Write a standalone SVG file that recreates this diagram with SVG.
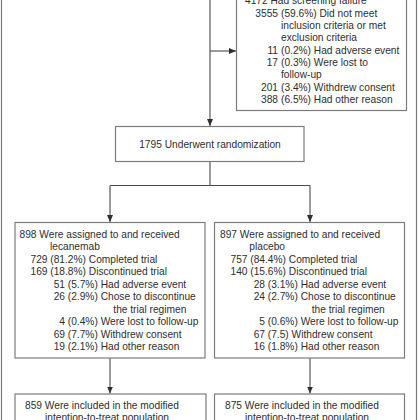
<svg xmlns="http://www.w3.org/2000/svg" width="420" height="420" viewBox="0 0 420 420">
<style>
  .box { fill: #ffffff; stroke: #7c7c7c; stroke-width: 1.2; }
  .frame { fill: none; stroke: #7a7a7a; stroke-width: 1.2; }
  .conn { fill: none; stroke: #4a4a4a; stroke-width: 1.1; }
  text { font-family: "Liberation Sans", Arial, sans-serif; font-size: 10.2px; fill: #2e2e2e; }
  .end { text-anchor: end; }
  .mid { text-anchor: middle; }
</style>
<defs>
  <marker id="arr" markerUnits="userSpaceOnUse" markerWidth="8" markerHeight="6" refX="7" refY="3" orient="auto">
    <path d="M0,0 L7,3 L0,6 Z" fill="#2e2e2e"/>
  </marker>
</defs>
<rect width="420" height="420" fill="#ffffff"/>
<line class="frame" x1="1.5" y1="-5" x2="1.5" y2="425"/>
<line class="frame" x1="416.5" y1="-5" x2="416.5" y2="425"/>

<g id="connectors">
  <path class="conn" d="M210,-5 V126" marker-end="url(#arr)"/>
  <path class="conn" d="M210,51 H236" marker-end="url(#arr)"/>
  <path class="conn" d="M210,162 V185.5 M110,185.5 H310"/>
  <path class="conn" d="M110,185.5 V222" marker-end="url(#arr)"/>
  <path class="conn" d="M310,185.5 V222" marker-end="url(#arr)"/>
  <path class="conn" d="M110,358 V393.5" marker-end="url(#arr)"/>
  <path class="conn" d="M310,358 V393.5" marker-end="url(#arr)"/>
</g>

<g id="screening-failure">
  <rect class="box" x="236.5" y="-10" width="170" height="120.5"/>
  <text x="245" y="3.8">4172 Had screening failure</text>
  <text class="end" x="278" y="16.5">3555</text><text x="281" y="16.5">(59.6%) Did not meet</text>
  <text x="281" y="28.9">inclusion criteria or met</text>
  <text x="281" y="41.2">exclusion criteria</text>
  <text class="end" x="278" y="53.6">11</text><text x="281" y="53.6">(0.2%) Had adverse event</text>
  <text class="end" x="278" y="65.9">17</text><text x="281" y="65.9">(0.3%) Were lost to</text>
  <text x="281" y="78.3">follow-up</text>
  <text class="end" x="278" y="90.6">201</text><text x="281" y="90.6">(3.4%) Withdrew consent</text>
  <text class="end" x="278" y="103">388</text><text x="281" y="103">(6.5%) Had other reason</text>
</g>

<g id="randomization">
  <rect class="box" x="115.5" y="126.5" width="188.5" height="35"/>
  <text class="mid" x="210" y="147.8">1795 Underwent randomization</text>
</g>

<g id="lecanemab">
  <rect class="box" x="15" y="222.5" width="190" height="135.5"/>
  <text x="19.5" y="237.8">898 Were assigned to and received</text>
  <text x="50" y="250.3">lecanemab</text>
  <text class="end" x="47.5" y="262.8">729</text><text x="50.3" y="262.8">(81.2%) Completed trial</text>
  <text class="end" x="47.5" y="275.3">169</text><text x="50.3" y="275.3">(18.8%) Discontinued trial</text>
  <text class="end" x="65" y="287.8">51</text><text x="67.8" y="287.8">(5.7%) Had adverse event</text>
  <text class="end" x="65" y="300.3">26</text><text x="67.8" y="300.3">(2.9%) Chose to discontinue</text>
  <text x="113.3" y="312.7">the trial regimen</text>
  <text class="end" x="65" y="325.2">4</text><text x="67.8" y="325.2">(0.4%) Were lost to follow-up</text>
  <text class="end" x="65" y="337.7">69</text><text x="67.8" y="337.7">(7.7%) Withdrew consent</text>
  <text class="end" x="65" y="350.2">19</text><text x="67.8" y="350.2">(2.1%) Had other reason</text>
</g>

<g id="placebo">
  <rect class="box" x="214.5" y="222.5" width="190" height="135.5"/>
  <text x="220" y="237.8">897 Were assigned to and received</text>
  <text x="249.3" y="250.3">placebo</text>
  <text class="end" x="247.5" y="262.8">757</text><text x="250.3" y="262.8">(84.4%) Completed trial</text>
  <text class="end" x="247.5" y="275.3">140</text><text x="250.3" y="275.3">(15.6%) Discontinued trial</text>
  <text class="end" x="265" y="287.8">28</text><text x="267.8" y="287.8">(3.1%) Had adverse event</text>
  <text class="end" x="265" y="300.3">24</text><text x="267.8" y="300.3">(2.7%) Chose to discontinue</text>
  <text x="311.7" y="312.7">the trial regimen</text>
  <text class="end" x="265" y="325.2">5</text><text x="267.8" y="325.2">(0.6%) Were lost to follow-up</text>
  <text class="end" x="265" y="337.7">67</text><text x="267.8" y="337.7">(7.5) Withdrew consent</text>
  <text class="end" x="265" y="350.2">16</text><text x="267.8" y="350.2">(1.8%) Had other reason</text>
</g>

<g id="mitt-lecanemab">
  <rect class="box" x="15" y="394" width="191" height="40"/>
  <text x="25" y="408.5">859 Were included in the modified</text>
  <text x="45" y="420.9">intention-to-treat population</text>
</g>

<g id="mitt-placebo">
  <rect class="box" x="214.5" y="394" width="190" height="40"/>
  <text x="225" y="408.5">875 Were included in the modified</text>
  <text x="245" y="420.9">intention-to-treat population</text>
</g>
</svg>
